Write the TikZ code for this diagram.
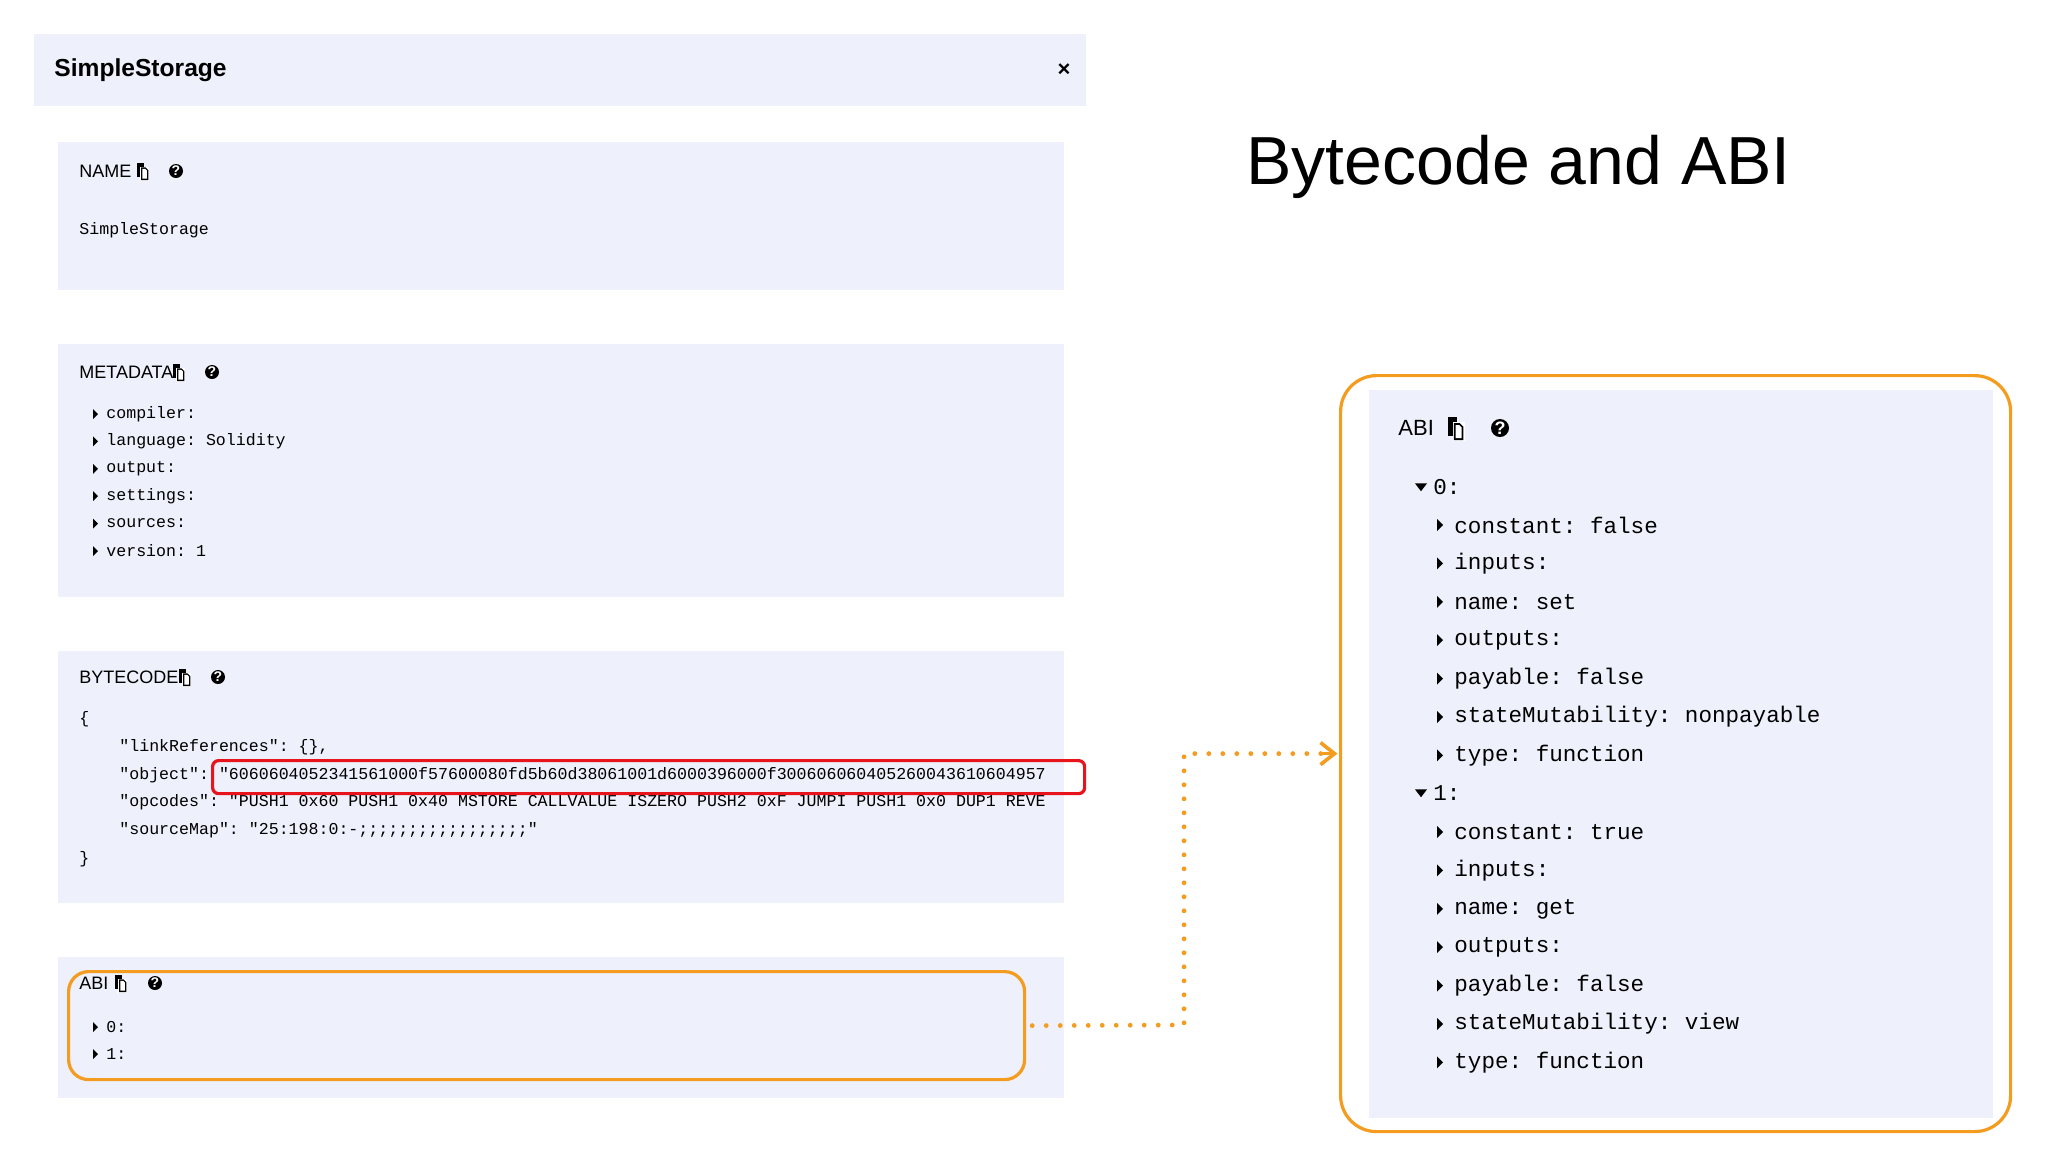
\documentclass[tikz,border=0pt]{standalone}
\usepackage{fontspec}
\setmainfont{Liberation Sans}
\setmonofont{Liberation Mono}
\usetikzlibrary{arrows.meta}
\definecolor{lav}{HTML}{EEF0FB}
\definecolor{org}{HTML}{F39C1F}
\definecolor{redb}{HTML}{E8141B}
\tikzset{
  panel/.style={fill=lav, draw=none, anchor=north west, inner sep=0pt},
  lbl/.style={anchor=west, inner sep=0pt, font=\fontsize{9}{10}\selectfont},
  code/.style={anchor=west, inner sep=0pt, font=\fontsize{8.3}{9}\ttfamily},
  rcode/.style={anchor=west, inner sep=0pt, font=\fontsize{11.3}{13}\ttfamily},
  hlred/.style={draw=redb, line width=1.6pt, rounded corners=3pt, anchor=north west, inner sep=0pt},
  hlorg/.style={draw=org, line width=1.6pt, rounded corners=10pt, anchor=north west, inner sep=0pt},
  link/.style={draw=org, line width=2.4pt, dash pattern=on 0pt off 7pt, line cap=round},
}
% copy icon: size factor #3
\newcommand{\copyicon}[3]{%
  \begin{scope}[shift={(#1,#2)}, scale=#3]
  \fill (-6,-9) rectangle (2,7);
  \fill[white] (-2,-5) rectangle (8,11);
  \fill (-1,-4) -- (4,-4) -- (7,-1) -- (7,10) -- (-1,10) -- cycle;
  \fill[white] (0.5,-2.5) -- (3.5,-2.5) -- (5.5,-0.5) -- (5.5,8.5) -- (0.5,8.5) -- cycle;
  \end{scope}}
\newcommand{\helpicon}[4]{%
  \fill (#1,#2) circle[radius=#3];
  \node[text=white, inner sep=0pt, font=\bfseries\fontsize{#4}{#4}\selectfont] at (#1,#2) {?};}
\newcommand{\rtri}[3]{\fill (#1,#2-#3) -- (#1+#3,#2) -- (#1,#2+#3) -- cycle;}
\newcommand{\dtri}[3]{\fill (#1-#3,#2-#3*0.6) -- (#1+#3,#2-#3*0.6) -- (#1,#2+#3*0.7) -- cycle;}
\begin{document}
\begin{tikzpicture}[x=0.5pt, y=-0.5pt]
\useasboundingbox (0,0) rectangle (2048,1152);
% header
\node[panel, minimum width=526pt, minimum height=36pt] (hdr) at (34,34) {};
\node[lbl, font=\bfseries\fontsize{12.3}{14}\selectfont] (title1) at (54,70) {SimpleStorage};
\node[inner sep=0pt, font=\bfseries\fontsize{11}{12}\selectfont] (close) at (1064,70) {\texttimes};
% NAME
\node[panel, minimum width=503pt, minimum height=74pt] (namebox) at (58,142) {};
\node[lbl] (namel) at (79,171) {NAME};
\copyicon{142}{171}{0.9}
\helpicon{176}{171}{7}{7}
\node[code] (nameval) at (79,230) {SimpleStorage};
% METADATA
\node[panel, minimum width=503pt, minimum height=126.5pt] (metabox) at (58,344) {};
\node[lbl] (metal) at (79,372) {METADATA};
\copyicon{178}{372}{0.9}
\helpicon{212}{372}{7}{7}
\foreach \t [count=\i from 0] in {compiler:, language: Solidity, output:, settings:, sources:, version: 1}{
  \rtri{93}{414+\i*27.4}{5}
  \node[code] (meta\i) at (106,414+\i*27.4) {\t};
}
% BYTECODE
\node[panel, minimum width=503pt, minimum height=126pt] (bytebox) at (58,651) {};
\node[lbl] (bytel) at (79,677) {BYTECODE};
\copyicon{184}{677}{0.9}
\helpicon{218}{677}{7}{7}
\node[code] (b0) at (79,719) {\{};
\node[code] (b1) at (119,747) {"linkReferences": \{\},};
\node[code] (b2) at (119,775) {"object": "6060604052341561000f57600080fd5b60d38061001d6000396000f300606060405260043610604957};
\node[code] (b3) at (119,802) {"opcodes": "PUSH1 0x60 PUSH1 0x40 MSTORE CALLVALUE ISZERO PUSH2 0xF JUMPI PUSH1 0x0 DUP1 REVE};
\node[code] (b4) at (119,830) {"sourceMap": "25:198:0:-;;;;;;;;;;;;;;;;;"};
\node[code] (b5) at (79,859) {\}};
\node[hlred, minimum width=436pt, minimum height=16.5pt] (redbox) at (211,759) {};
% ABI small
\node[panel, minimum width=503pt, minimum height=70.5pt] (abipanel) at (58,957) {};
\node[lbl] (abil) at (79,983) {ABI};
\copyicon{120}{983}{0.9}
\helpicon{155}{983}{7}{7}
\rtri{93}{1027}{5}
\node[code] (abi0) at (106,1027) {0:};
\rtri{93}{1054}{5}
\node[code] (abi1) at (106,1054) {1:};
\node[hlorg, minimum width=478pt, minimum height=54pt] (abismall) at (67,970) {};
% Title
\node[anchor=west, inner sep=0pt, font=\fontsize{34}{38}\selectfont] (maintitle) at (1246,167) {Bytecode and ABI};
% Right panel
\node[panel, minimum width=312pt, minimum height=364pt] (bigpanel) at (1369,390) {};
\node[hlorg, rounded corners=18pt, minimum width=335pt, minimum height=378pt] (abibig) at (1339,374) {};
\node[lbl, font=\fontsize{11}{12}\selectfont] (abir) at (1398,428) {ABI};
\copyicon{1455}{428}{1.2}
\helpicon{1500}{428}{9}{9}
\dtri{1421}{487}{6}
\node[rcode] (r0) at (1433,487) {0:};
\foreach \t [count=\i from 0] in {constant: false, inputs:, name: set, outputs:, payable: false, stateMutability: nonpayable, type: function}{
  \rtri{1437}{525+\i*38.4}{6}
  \node[rcode] (ra\i) at (1454,525+\i*38.4) {\t};
}
\dtri{1421}{793}{6}
\node[rcode] (r1) at (1433,793) {1:};
\foreach \t [count=\i from 0] in {constant: true, inputs:, name: get, outputs:, payable: false, stateMutability: view, type: function}{
  \rtri{1437}{832+\i*38.4}{6}
  \node[rcode] (rb\i) at (1454,832+\i*38.4) {\t};
}
% connector
\coordinate (bend) at (1184,1025);
\draw[link] ([xshift=3pt]abismall.east) -- (bend) |- ([xshift=-8pt]abibig.west);
\draw[org, line width=1.8pt, -{Straight Barb[length=7pt,width=11pt,line width=1.8pt]}] ([xshift=-8pt]abibig.west) -- ([xshift=-0.8pt]abibig.west);
\end{tikzpicture}
\end{document}
